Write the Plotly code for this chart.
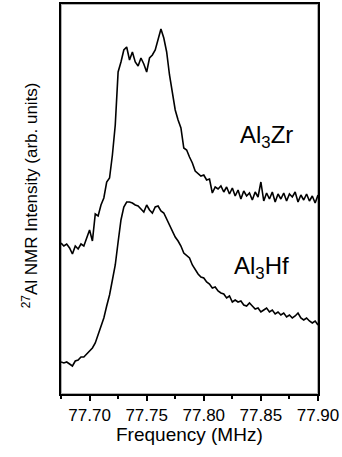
import numpy as np
import plotly.graph_objects as go

# Frequency grid (MHz), sampled every 0.0025 MHz
freq_start = 77.675
freq_step = 0.0025
n_points = 91
frequency = np.round(freq_start + freq_step * np.arange(n_points), 4)

# Al3Zr spectrum (arb. units, offset upward)
al3zr = [151, 148, 150, 146, 140, 148, 145, 150, 148, 156,
         164, 153, 180, 178, 189, 196, 212, 216, 239, 269,
         322, 332, 344, 347, 334, 342, 332, 328, 336, 330,
         322, 336, 339, 344, 356, 365, 356, 342, 319, 299,
         284, 274, 266, 246, 244, 237, 231, 223, 220, 218,
         219, 214, 215, 201, 207, 205, 208, 202, 207, 200,
         206, 198, 204, 195, 203, 198, 201, 194, 202, 197,
         212, 193, 201, 195, 202, 192, 200, 195, 201, 193,
         200, 197, 202, 192, 199, 194, 200, 193, 198, 191,
         199]

# Al3Hf spectrum (arb. units)
al3hf = [32, 31, 32, 30, 28, 33, 34, 37, 37, 40,
         43, 46, 51, 59, 67, 76, 88, 99, 114, 129,
         152, 174, 187, 192, 192, 191, 189, 188, 185, 182,
         189, 184, 181, 187, 188, 183, 181, 175, 168, 163,
         157, 153, 148, 141, 138, 136, 129, 124, 120, 117,
         116, 112, 110, 106, 107, 103, 101, 100, 96, 98,
         92, 94, 92, 93, 89, 88, 91, 88, 85, 86,
         82, 84, 86, 82, 84, 80, 82, 79, 81, 77,
         79, 76, 78, 81, 76, 74, 76, 73, 71, 73,
         69]

labels = ["Al<sub>3</sub>Zr", "Al<sub>3</sub>Hf"]
label_freq = [77.8545, 77.8505]
label_y = [258, 127]

FONT = "Liberation Sans, Arial, sans-serif"

fig = go.Figure()
for series in (al3zr, al3hf):
    fig.add_trace(go.Scatter(x=frequency, y=series, mode="lines",
                             line=dict(color="black", width=1.6),
                             showlegend=False, hoverinfo="skip"))

for lab, lx, ly in zip(labels, label_freq, label_y):
    fig.add_annotation(x=lx, y=ly, xref="x", yref="y", text=lab,
                       showarrow=False, xanchor="center", yanchor="middle",
                       font=dict(family=FONT, size=24, color="black"))

fig.add_annotation(x=-0.12, y=0.51, xref="paper", yref="paper",
                   xanchor="center", yanchor="middle",
                   text="<sup>27</sup>Al NMR Intensity (arb. units)",
                   textangle=-90, showarrow=False,
                   font=dict(family=FONT, size=17, color="black"))

fig.add_annotation(x=0.5, y=-0.103, xref="paper", yref="paper",
                   xanchor="center", yanchor="middle",
                   text="Frequency (MHz)", showarrow=False,
                   font=dict(family=FONT, size=19, color="black"))

# plot frame
fig.add_shape(type="rect", xref="paper", yref="paper", x0=0, x1=1, y0=0, y1=1,
              line=dict(color="black", width=2), fillcolor="rgba(0,0,0,0)", layer="above")

fig.update_layout(
    template="simple_white",
    width=342, height=457,
    margin=dict(l=61, r=24, t=4, b=63, autoexpand=False),
    paper_bgcolor="white", plot_bgcolor="white",
    font=dict(family=FONT, color="black"),
    xaxis=dict(range=[77.675, 77.90], dtick=0.05, tick0=77.70,
               tickformat=".2f", ticks="outside", ticklen=5, tickwidth=1.5,
               tickcolor="black", automargin=False,
               minor=dict(dtick=0.025, ticks="outside", ticklen=3, tickwidth=1.5, tickcolor="black"),
               showline=True, linewidth=2, linecolor="black", mirror=True,
               showgrid=False, zeroline=False,
               tickfont=dict(family=FONT, size=17, color="black")),
    yaxis=dict(range=[0, 390], showticklabels=False, ticks="", automargin=False,
               showline=True, linewidth=2, linecolor="black", mirror=True,
               showgrid=False, zeroline=False),
)

fig.write_html("out.html", config={"displayModeBar": False},
               post_script="document.body.style.margin='0';document.body.style.padding='0';")
